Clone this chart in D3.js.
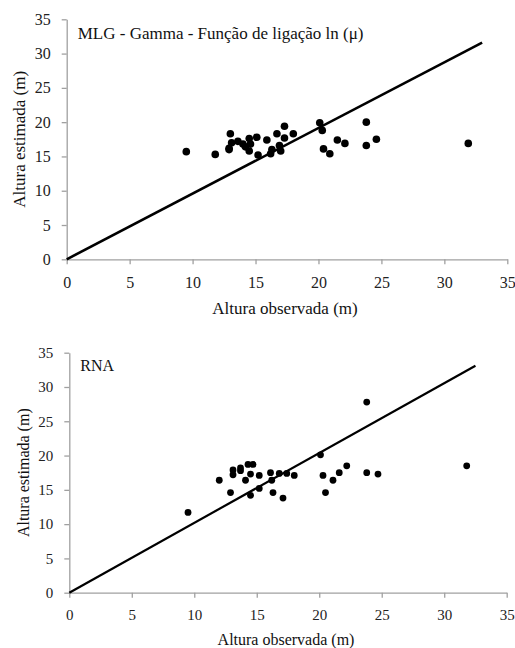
<!DOCTYPE html>
<html>
<head>
<meta charset="utf-8">
<script src="https://cdn.jsdelivr.net/npm/d3@7"></script>
<style>
  body { margin: 0; background: #fff; }
</style>
</head>
<body>
<div id="chart"></div>
<script>
const WIDTH = 515;
const HEIGHT = 648;
const FONT = '"Liberation Serif", "Times New Roman", serif';

// ticks shared by both panels
const ticks = [0, 5, 10, 15, 20, 25, 30, 35];

// MLG Gamma panel: observed vs estimated height (m)
const obsMLG = [9.5, 11.8, 12.9, 12.9, 13.0, 13.1, 13.6, 14.0, 14.2, 14.5, 14.5, 14.6, 15.1, 15.2, 15.9,
    16.2, 16.3, 16.7, 16.9, 17.0, 17.3, 17.3, 18.0, 20.1, 20.3, 20.4, 20.9, 21.5, 22.1, 23.8, 23.8, 24.6, 31.9];
const estMLG = [15.7, 15.3, 16.0, 16.2, 18.3, 17.0, 17.2, 16.8, 16.4, 17.6, 15.8, 16.8, 17.8, 15.2, 17.4,
    15.4, 16.0, 18.3, 16.6, 15.8, 19.4, 17.7, 18.3, 19.9, 18.8, 16.1, 15.4, 17.4, 16.9, 20.0, 16.6, 17.5, 16.9];
const lineMLG = [[0, 0], [33, 31.6]];

// RNA panel
const obsRNA = [9.5, 12.0, 12.9, 13.1, 13.1, 13.7, 13.7, 14.1, 14.3, 14.5, 14.5, 14.7, 15.2, 15.2, 16.1,
    16.2, 16.3, 16.8, 17.1, 17.4, 18.0, 20.1, 20.3, 20.5, 21.1, 21.6, 22.2, 23.8, 23.8, 24.7, 31.8];
const estRNA = [11.7, 16.4, 14.6, 17.9, 17.2, 18.2, 17.8, 16.4, 18.7, 17.3, 14.2, 18.7, 17.1, 15.2, 17.5,
    16.4, 14.6, 17.4, 13.8, 17.4, 17.1, 20.1, 17.1, 14.6, 16.4, 17.5, 18.5, 27.8, 17.5, 17.3, 18.5];
const lineRNA = [[0, 0], [32.5, 33.1]];

const SVG = d3.select('#chart')
    .append('svg')
    .attr('width', WIDTH)
    .attr('height', HEIGHT)
    .attr('font-family', FONT);

function panel(cfg) {
    const x = d3.scaleLinear().domain([0, 35]).range([cfg.left, cfg.right]);
    const y = d3.scaleLinear().domain([0, 35]).range([cfg.bottom, cfg.top]);
    const g = SVG.append('g');

    // axes
    const xAxis = g.append('g')
        .attr('transform', `translate(0, ${cfg.bottom})`)
        .call(d3.axisBottom(x).tickValues(ticks).tickSize(5).tickPadding(12).tickSizeOuter(0));
    const yAxis = g.append('g')
        .attr('transform', `translate(${cfg.left}, 0)`)
        .call(d3.axisLeft(y).tickValues(ticks).tickSize(5).tickPadding(11).tickSizeOuter(0));
    [xAxis, yAxis].forEach(a => {
        a.attr('font-family', FONT).attr('font-size', cfg.fs);
        a.select('.domain').attr('stroke', '#a0a0a0').attr('stroke-width', 1.3);
        a.selectAll('.tick line').attr('stroke', '#a0a0a0').attr('stroke-width', 1.3);
        a.selectAll('.tick text').attr('fill', '#222');
    });

    // reference line
    g.append('path')
        .datum(cfg.line)
        .attr('d', d3.line().x(d => x(d[0])).y(d => y(d[1])))
        .attr('fill', 'none')
        .attr('stroke', '#000')
        .attr('stroke-width', cfg.lw);

    g.selectAll('circle.pt')
        .data(cfg.obs.map((o, i) => [o, cfg.est[i]]))
        .enter()
        .append('circle')
        .attr('cx', d => x(d[0]))
        .attr('cy', d => y(d[1]))
        .attr('r', cfg.r)
        .attr('fill', '#000');

    // labels
    g.append('text')
        .attr('x', cfg.left + 11)
        .attr('y', cfg.top + cfg.labelDy)
        .attr('font-size', cfg.labelFs)
        .attr('fill', '#111')
        .text(cfg.label);

    g.append('text')
        .attr('x', (cfg.left + cfg.right) / 2 - 2)
        .attr('y', cfg.bottom + cfg.xTitleDy)
        .attr('text-anchor', 'middle')
        .attr('font-size', cfg.titleFs)
        .attr('fill', '#111')
        .text('Altura observada (m)');

    g.append('text')
        .attr('transform', `translate(${cfg.yTitleX}, ${(cfg.top + cfg.bottom) / 2}) rotate(-90)`)
        .attr('text-anchor', 'middle')
        .attr('font-size', cfg.titleFs)
        .attr('fill', '#111')
        .text('Altura estimada (m)');
}

panel({
    left: 66.7, right: 507.3, top: 19.3, bottom: 259.3,
    obs: obsMLG, est: estMLG, line: lineMLG,
    r: 3.8, lw: 2.6, fs: 16, titleFs: 17, labelFs: 17, labelDy: 20,
    label: 'MLG - Gamma - Função de ligação ln (μ)',
    xTitleDy: 55, yTitleX: 25
});

panel({
    left: 69.3, right: 506.7, top: 352.7, bottom: 592.7,
    obs: obsRNA, est: estRNA, line: lineRNA,
    r: 3.4, lw: 2.2, fs: 15, titleFs: 16, labelFs: 16, labelDy: 18,
    label: 'RNA',
    xTitleDy: 52, yTitleX: 29
});
</script>
</body>
</html>
